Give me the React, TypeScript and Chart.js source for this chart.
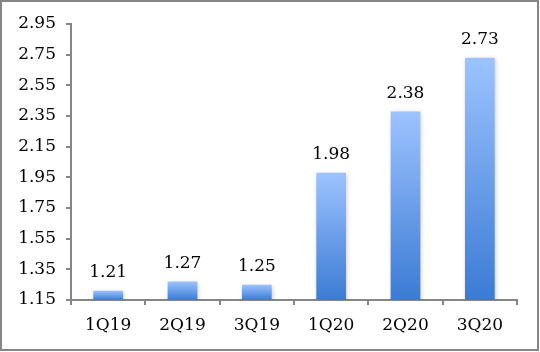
import React, { useEffect, useRef } from "react";
import { Chart, registerables } from "chart.js";

Chart.register(...registerables);

const categories = ["1Q19", "2Q19", "3Q19", "1Q20", "2Q20", "3Q20"];
const values = [1.21, 1.27, 1.25, 1.98, 2.38, 2.73];
const yMin = 1.15;
const yMax = 2.95;
const yStep = 0.2;

const FONT = "'DejaVu Serif', serif";
const AXIS = "#868686";

const labelPlugin = {
  id: "barLabels",
  afterDatasetsDraw(chart: any) {
    const ctx = chart.ctx;
    const meta = chart.getDatasetMeta(0);
    ctx.save();
    ctx.fillStyle = "#000";
    ctx.font = `17px ${FONT}`;
    ctx.textAlign = "center";
    ctx.textBaseline = "alphabetic";
    meta.data.forEach((bar: any, i: number) => {
      ctx.fillText(values[i].toFixed(2), bar.x, bar.y - 13.5);
    });
    ctx.restore();
  },
};

const shadowPlugin = {
  id: "barShadow",
  beforeDatasetsDraw(chart: any) {
    const ctx = chart.ctx;
    ctx.save();
    ctx.shadowColor = "rgba(0,0,0,0.22)";
    ctx.shadowBlur = 5;
    ctx.shadowOffsetX = 1;
    ctx.shadowOffsetY = 1;
  },
  afterDatasetsDraw(chart: any) {
    chart.ctx.restore();
  },
};

export default function App() {
  const ref = useRef<HTMLCanvasElement>(null);
  useEffect(() => {
    document.body.style.margin = "0";
    const canvas = ref.current!;
    const chart = new Chart(canvas, {
      type: "bar",
      data: {
        labels: categories,
        datasets: [
          {
            data: values,
            barPercentage: 0.4,
            categoryPercentage: 1,
            backgroundColor: (c: any) => {
              const ch = c.chart;
              const ys = ch.scales?.y;
              if (!ch.chartArea || !ys || c.raw == null) return "#6FA0EA";
              const top = ys.getPixelForValue(c.raw);
              const bottom = ys.getPixelForValue(yMin);
              if (!isFinite(top) || !isFinite(bottom) || bottom - top < 1) return "#6FA0EA";
              const g = ch.ctx.createLinearGradient(0, top, 0, bottom);
              g.addColorStop(0, "#9DC3FF");
              g.addColorStop(1, "#3B7BD4");
              return g;
            },
            borderWidth: 0,
          },
        ],
      },
      options: {
        animation: false,
        responsive: false,
        maintainAspectRatio: false,
        layout: { padding: { top: 24, right: 23, left: 0, bottom: 0 } },
        plugins: { legend: { display: false }, tooltip: { enabled: false } },
        scales: {
          x: {
            grid: {
              display: true,
              drawOnChartArea: false,
              drawTicks: true,
              tickLength: 5,
              color: AXIS,
              lineWidth: 2,
              offset: true,
            },
            border: { display: true, color: AXIS, width: 2 },
            ticks: {
              color: "#000",
              font: { family: FONT, size: 17 },
              padding: 10,
              maxRotation: 0,
            },
            afterFit: (s: any) => {
              s.height = 52;
            },
          },
          y: {
            min: yMin,
            max: yMax,
            grid: {
              display: true,
              drawOnChartArea: false,
              drawTicks: true,
              tickLength: 5,
              color: AXIS,
              lineWidth: 2,
            },
            border: { display: true, color: AXIS, width: 2 },
            ticks: {
              stepSize: yStep,
              color: "#000",
              font: { family: FONT, size: 17 },
              padding: 10,
              callback: (v: any) => Number(v).toFixed(2),
            },
            afterBuildTicks: (s: any) => {
              const t = [];
              for (let v = yMin; v <= yMax + 1e-9; v += yStep) t.push({ value: Math.round(v * 100) / 100 });
              s.ticks = t;
            },
            afterFit: (s: any) => {
              s.width = 71;
            },
          },
        },
      },
      plugins: [shadowPlugin, labelPlugin],
    });
    return () => chart.destroy();
  }, []);
  return (
    <div style={{ position: "relative", width: 540, height: 352, background: "#fff" }}>
      <canvas ref={ref} width={540} height={352} style={{ position: "absolute", left: 0, top: 0 }} />
      <div
        style={{
          position: "absolute",
          left: 0,
          top: 0,
          width: 539,
          height: 351,
          boxSizing: "border-box",
          border: `2px solid ${AXIS}`,
          pointerEvents: "none",
        }}
      />
    </div>
  );
}
